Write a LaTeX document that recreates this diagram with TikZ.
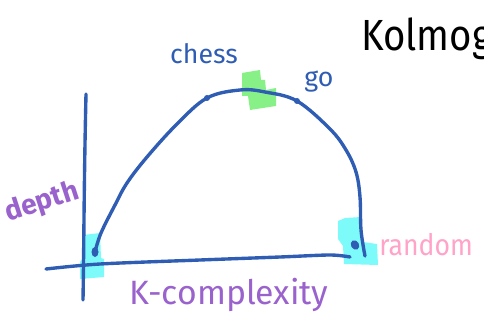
\documentclass[tikz,border=0pt]{standalone}
\usepackage{fontspec}
\setsansfont{Fira Sans}
\definecolor{penblue}{HTML}{2F5DB3}
\definecolor{penpurple}{HTML}{9A62CC}
\definecolor{penpink}{HTML}{FFA3C8}
\definecolor{hlcyan}{HTML}{6FFBFB}
\definecolor{hlgreen}{HTML}{7AF07A}

\begin{document}
\begin{tikzpicture}[x=0.025cm, y=-0.025cm, line cap=round, line join=round,
		pen/.style={penblue, line width=2.4pt},
		hl/.style={opacity=0.9},
		label/.style={font=\sffamily, inner sep=0pt}]
		
		\useasboundingbox (0,0) rectangle (484,320);
		\clip (0,0) rectangle (484,320);
		
		% highlights
		\fill[hlcyan, hl] (83,235) -- (100,233) -- (101,258) -- (104,259) -- (104,277) -- (80,279) -- (80,262) -- (83,258) -- cycle;
		\fill[hlcyan, hl] (338,221) -- (345,218) -- (361,217) -- (363,242) -- (377,244) -- (378,265) -- (344,264) -- (343,246) -- (338,239) -- cycle;
		\fill[hlgreen, hl] (242,73) -- (260,70) -- (261,80) -- (265,80) -- (266,90) -- (276,88) -- (276,106) -- (250,110) -- (248,96) -- (242,96) -- cycle;
		
		% axes
		\coordinate (ytop) at (86,94);
		\coordinate (ybot) at (83,300);
		\draw[pen] (ytop) .. controls (84,180) and (84,240) .. (ybot);
		\draw[pen] plot[smooth] coordinates {(46,269) (100,264) (200,260) (280,257) (330,255) (350,257)};
		
		% curve
		\coordinate (simple) at (95,252);
		\coordinate (chessdot) at (207,98);
		\coordinate (godot) at (297,101);
		\coordinate (randomdot) at (355,245);
		\draw[pen] plot[smooth, tension=0.6] coordinates {(simple) (101,233) (115,205) (127,183) (147,157) (177,124) (chessdot) (240,90) (265,92) (godot) (330,129) (346,150) (356,172) (360,197) (361,230) (365,256)};
		
		% dots
		\fill[penblue] (simple) ellipse [x radius=3.5, y radius=5];
		\fill[penblue] (chessdot) circle (3);
		\fill[penblue] (godot) circle (3);
		\fill[penblue, rotate around={30:(randomdot)}] (randomdot) ellipse [x radius=4, y radius=5];
		
		% labels
		\node[label, penblue, font=\sffamily\fontsize{19}{19}\selectfont] (chess) at (204,54) {chess};
		\node[label, penblue, font=\sffamily\fontsize{19}{19}\selectfont] (go) at (319,82) {go};
		\node[label, penpurple, font=\sffamily\bfseries\fontsize{20}{20}\selectfont, rotate=18] (depth) at (42,203) {depth};
		\node[label, penpurple, font=\sffamily\fontsize{24}{24}\selectfont, anchor=base] (kcomp) at (229,304) {K-complexity};
		\node[label, penpink, font=\sffamily\fontsize{21}{21}\selectfont, anchor=base west, xscale=0.9] (random) at (379,255) {random};
		\node[label, black, font=\sffamily\fontsize{31}{31}\selectfont, anchor=base west, xscale=0.88] (title) at (361,51) {Kolmog};
		
	\end{tikzpicture}
\end{document}
